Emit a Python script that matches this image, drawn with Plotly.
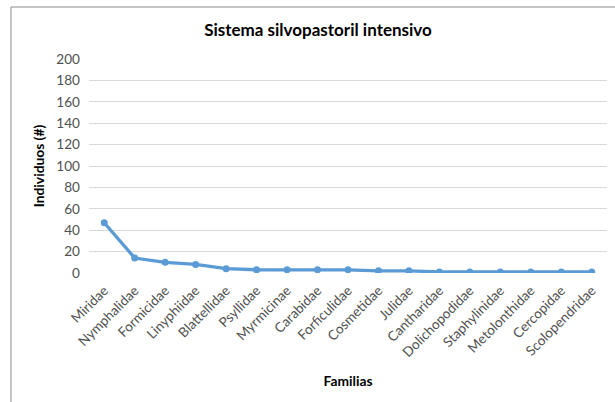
import plotly.graph_objects as go

familias = ["Miridae", "Nymphalidae", "Formicidae", "Linyphiidae", "Blattellidae",
            "Psyllidae", "Myrmicinae", "Carabidae", "Forficulidae", "Cosmetidae",
            "Julidae", "Cantharidae", "Dolichopodidae", "Staphylinidae",
            "Metolonthidae", "Cercopidae", "Scolopendridae"]
individuos = [47, 14, 10, 8, 4, 3, 3, 3, 3, 2, 2, 1, 1, 1, 1, 1, 1]
y_ticks = [0, 20, 40, 60, 80, 100, 120, 140, 160, 180, 200]

FONT = "Lato, Open Sans, sans-serif"
GREY = "#505050"
BLUE = "#5B9BD5"

fig = go.Figure()
fig.add_trace(go.Scatter(
    x=familias, y=individuos, mode="lines+markers",
    line=dict(color=BLUE, width=3.3),
    marker=dict(color=BLUE, size=7),
    showlegend=False,
))

W, H = 615, 402
L, R, T, B = 89, 8, 59, 129
pw, ph = W - L - R, H - T - B

def px_x(x):
    return (x - L) / pw

def px_y(y):
    return (H - B - y) / ph

fig.update_layout(
    width=W, height=H,
    margin=dict(l=L, r=R, t=T, b=B),
    plot_bgcolor="white", paper_bgcolor="white",
    font=dict(family=FONT, color=GREY, size=13.6),
    title=dict(text="<b>Sistema silvopastoril intensivo</b>",
               xref="paper", x=px_x(318), xanchor="center",
               y=1 - 30 / H, yanchor="middle",
               font=dict(size=17, color="black", family=FONT)),
    xaxis=dict(
        type="category", range=[-0.5, len(familias) - 0.5],
        tickangle=-45, showgrid=False, showline=False, ticks="",
        tickfont=dict(size=13.6, color=GREY), ticklabelstandoff=6,
        title=dict(text="<b>Familias</b>", font=dict(size=13.8, color="black"),
                   standoff=17),
    ),
    yaxis=dict(
        range=[0, 200], tickvals=y_ticks, showgrid=True, gridcolor="#D9D9D9",
        gridwidth=1, zeroline=False, showline=False, ticks="",
        tickfont=dict(size=13.6, color=GREY), ticklabelstandoff=8,
        title=dict(text="<b>Individuos (#)</b>", font=dict(size=13.8, color="black"),
                   standoff=8),
    ),
    shapes=[
        dict(type="line", xref="paper", yref="paper",
             x0=px_x(11), x1=px_x(11), y0=px_y(7), y1=px_y(420),
             line=dict(color="#8C8C8C", width=1)),
        dict(type="line", xref="paper", yref="paper",
             x0=px_x(11), x1=px_x(630), y0=px_y(7), y1=px_y(7),
             line=dict(color="#8C8C8C", width=1)),
    ],
)

fig.write_html("out.html")
